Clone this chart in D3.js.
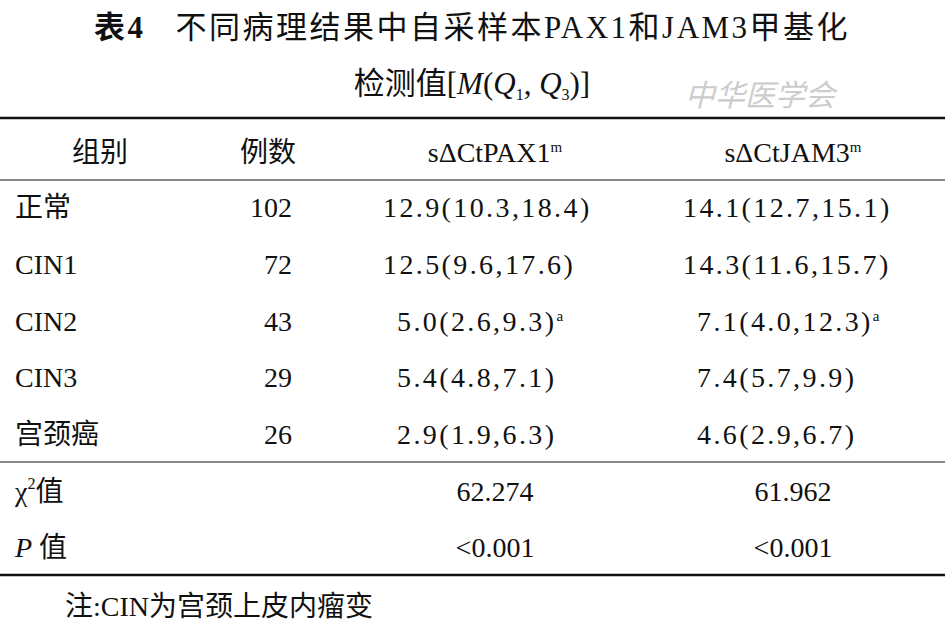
<!DOCTYPE html>
<html><head><meta charset="utf-8">
<script src="https://cdn.jsdelivr.net/npm/d3@7"></script>
<style>body{margin:0;background:#fff}</style>
</head><body>
<script>
const groups = ['正常', 'CIN1', 'CIN2', 'CIN3', '宫颈癌'];
const counts = [102, 72, 43, 29, 26];
const pax1 = [[12.9, 10.3, 18.4], [12.5, 9.6, 17.6], [5.0, 2.6, 9.3], [5.4, 4.8, 7.1], [2.9, 1.9, 6.3]];
const jam3 = [[14.1, 12.7, 15.1], [14.3, 11.6, 15.7], [7.1, 4.0, 12.3], [7.4, 5.7, 9.9], [4.6, 2.9, 6.7]];
const sigMark = ['', '', 'a', '', ''];
const chi2 = ['62.274', '61.962'];
const pvals = ['<0.001', '<0.001'];

const W = 945, H = 626;
const font = '"Liberation Serif","Noto Sans CJK SC",serif';
const svg = d3.select('body').append('svg').attr('width', W).attr('height', H)
  .style('font-family', font).style('font-size', '28px').attr('fill', '#111');

// title
const t1 = svg.append('text').attr('x', 472).attr('y', 38).attr('text-anchor', 'middle')
  .style('font-size', '31px').style('letter-spacing', '2.5px');
t1.append('tspan').attr('font-weight', 'bold').text('表4');
t1.append('tspan').attr('dx', 30).text('不同病理结果中自采样本PAX1和JAM3甲基化');
const t2 = svg.append('text').attr('x', 472).attr('y', 94).attr('text-anchor', 'middle').style('font-size', '31px');
t2.append('tspan').text('检测值[');
t2.append('tspan').attr('font-style', 'italic').text('M');
t2.append('tspan').text('(');
t2.append('tspan').attr('font-style', 'italic').text('Q');
t2.append('tspan').attr('dy', 6).style('font-size', '16px').text('1');
t2.append('tspan').attr('dy', -6).text(', ');
t2.append('tspan').attr('font-style', 'italic').text('Q');
t2.append('tspan').attr('dy', 6).style('font-size', '16px').text('3');
t2.append('tspan').attr('dy', -6).text(')]');
svg.append('text').attr('x', 685).attr('y', 106).attr('fill', '#ccc').style('font-size', '30px')
  .attr('font-style', 'italic').text('中华医学会');

// rules
const rule = (y, w) => svg.append('line').attr('x1', 0).attr('x2', W).attr('y1', y).attr('y2', y)
  .attr('stroke', '#111').attr('stroke-width', w);
rule(118, 2.5); rule(180, 1.2); rule(462, 1.2); rule(575, 2.5);

const y = d3.scalePoint().domain(d3.range(groups.length)).range([217, 444]);
const colX = { g: 15, n: 292, a: 383, b: 683 };

// header
const hdr = svg.append('g');
hdr.append('text').attr('x', 100).attr('y', 162).attr('text-anchor', 'middle').text('组别');
hdr.append('text').attr('x', 268).attr('y', 162).attr('text-anchor', 'middle').text('例数');
[['sΔCtPAX1', 495], ['sΔCtJAM3', 793]].forEach(([s, x]) => {
  const t = hdr.append('text').attr('x', x).attr('y', 162).attr('text-anchor', 'middle');
  t.append('tspan').text(s);
  t.append('tspan').attr('dy', -10).style('font-size', '15px').text('m');
});

const fmt = v => v.toFixed(1);
const rows = svg.selectAll('g.row').data(groups).join('g').attr('class', 'row')
  .attr('transform', (d, i) => `translate(0,${y(i)})`);
rows.append('text').attr('x', colX.g).text(d => d);
rows.append('text').attr('x', colX.n).attr('text-anchor', 'end').text((d, i) => counts[i]);
[[pax1, colX.a], [jam3, colX.b]].forEach(([arr, x0]) => {
  const t = rows.append('text').attr('x', (d, i) => x0 + (arr[i][0] >= 10 ? 0 : 14))
    .style('letter-spacing', '2.4px');
  t.append('tspan').text((d, i) => `${fmt(arr[i][0])}(${fmt(arr[i][1])},${fmt(arr[i][2])})`);
  t.append('tspan').attr('dy', -10).style('font-size', '15px').style('letter-spacing', '0')
    .text((d, i) => sigMark[i]);
});

// stats rows
const s1 = svg.append('text').attr('x', colX.g).attr('y', 501);
s1.append('tspan').text('χ');
s1.append('tspan').attr('dy', -12).style('font-size', '16px').text('2');
s1.append('tspan').attr('dy', 12).text('值');
const s2 = svg.append('text').attr('x', colX.g).attr('y', 557);
s2.append('tspan').attr('font-style', 'italic').text('P');
s2.append('tspan').text(' 值');
[495, 793].forEach((x, i) => {
  svg.append('text').attr('x', x).attr('y', 501).attr('text-anchor', 'middle').text(chi2[i]);
  svg.append('text').attr('x', x).attr('y', 557).attr('text-anchor', 'middle').text(pvals[i]);
});

svg.append('text').attr('x', 65).attr('y', 616).text('注:CIN为宫颈上皮内瘤变');
</script>
</body></html>
